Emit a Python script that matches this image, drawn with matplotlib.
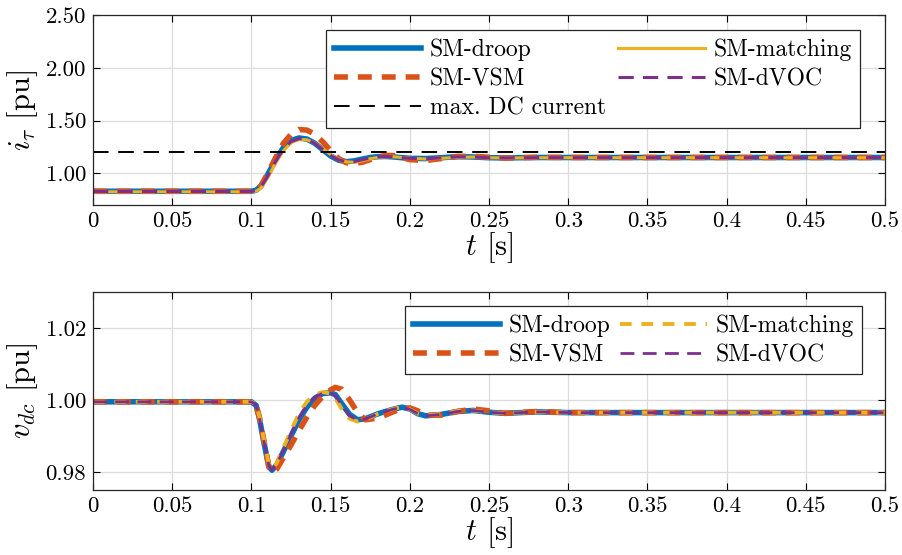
import matplotlib
matplotlib.use('Agg')
import matplotlib.pyplot as plt
from matplotlib.ticker import FormatStrFormatter

plt.rcParams['font.family'] = ['cmr10', 'DejaVu Serif']
plt.rcParams['mathtext.fontset'] = 'cm'
plt.rcParams['axes.formatter.use_mathtext'] = True

# --- current i_tau (top) ---
t_i = [0, 0.100, 0.103, 0.106, 0.110, 0.115, 0.120, 0.125, 0.130, 0.135, 0.140, 0.145,
       0.150, 0.155, 0.160, 0.165, 0.170, 0.175, 0.180, 0.185, 0.190, 0.195, 0.200,
       0.210, 0.220, 0.230, 0.240, 0.250, 0.260, 0.280, 0.300, 0.350, 0.400, 0.450, 0.500]
i_droop = [0.83, 0.83, 0.84, 0.88, 0.98, 1.12, 1.24, 1.31, 1.335, 1.325, 1.285, 1.225,
           1.165, 1.125, 1.110, 1.118, 1.135, 1.150, 1.158, 1.160, 1.155, 1.148, 1.142,
           1.140, 1.148, 1.158, 1.155, 1.148, 1.146, 1.150, 1.150, 1.150, 1.150, 1.150, 1.150]
i_vsm = [0.83, 0.83, 0.84, 0.88, 0.99, 1.14, 1.28, 1.37, 1.415, 1.410, 1.370, 1.300,
         1.215, 1.140, 1.100, 1.092, 1.105, 1.130, 1.155, 1.170, 1.168, 1.150, 1.130,
         1.122, 1.140, 1.160, 1.162, 1.152, 1.145, 1.152, 1.150, 1.150, 1.150, 1.150, 1.150]
i_matching = [0.825, 0.825, 0.83, 0.86, 0.95, 1.09, 1.21, 1.29, 1.320, 1.318, 1.288, 1.235,
              1.178, 1.132, 1.108, 1.105, 1.118, 1.138, 1.152, 1.158, 1.156, 1.150, 1.143,
              1.136, 1.142, 1.152, 1.154, 1.148, 1.145, 1.148, 1.148, 1.148, 1.148, 1.148, 1.148]
i_dvoc = [0.828, 0.828, 0.835, 0.87, 0.965, 1.105, 1.225, 1.30, 1.328, 1.322, 1.285, 1.228,
          1.170, 1.128, 1.110, 1.112, 1.128, 1.145, 1.156, 1.160, 1.156, 1.149, 1.142,
          1.138, 1.146, 1.156, 1.155, 1.148, 1.146, 1.149, 1.149, 1.149, 1.149, 1.149, 1.149]
i_max = 1.2

# --- dc voltage v_dc (bottom) ---
t_v = [0, 0.100, 0.103, 0.105, 0.108, 0.111, 0.113, 0.116, 0.120, 0.125, 0.130, 0.135,
       0.140, 0.145, 0.150, 0.153, 0.157, 0.162, 0.167, 0.172, 0.180, 0.190, 0.195,
       0.200, 0.205, 0.210, 0.220, 0.230, 0.240, 0.250, 0.260, 0.280, 0.300, 0.350,
       0.400, 0.450, 0.500]
v_droop = [0.9995, 0.9995, 0.9985, 0.9950, 0.9880, 0.9815, 0.9805, 0.9820, 0.9855, 0.9900,
           0.9945, 0.9980, 1.0005, 1.0018, 1.0020, 1.0015, 0.9990, 0.9960, 0.9945, 0.9948,
           0.9962, 0.9975, 0.9980, 0.9975, 0.9962, 0.9956, 0.9960, 0.9968, 0.9971, 0.9966,
           0.9963, 0.9967, 0.9965, 0.9965, 0.9965, 0.9965, 0.9965]
v_vsm = [0.9995, 0.9995, 0.9985, 0.9952, 0.9885, 0.9815, 0.9798, 0.9808, 0.9838, 0.9875,
         0.9915, 0.9952, 0.9985, 1.0010, 1.0028, 1.0035, 1.0030, 1.0000, 0.9965, 0.9945,
         0.9950, 0.9968, 0.9977, 0.9978, 0.9970, 0.9958, 0.9958, 0.9968, 0.9975, 0.9970,
         0.9963, 0.9968, 0.9965, 0.9965, 0.9965, 0.9965, 0.9965]
v_matching = [0.9995, 0.9995, 0.9988, 0.9955, 0.9888, 0.9822, 0.9808, 0.9825, 0.9865, 0.9915,
              0.9962, 0.9995, 1.0015, 1.0022, 1.0018, 1.0005, 0.9975, 0.9948, 0.9940, 0.9945,
              0.9962, 0.9976, 0.9980, 0.9974, 0.9962, 0.9957, 0.9961, 0.9969, 0.9971, 0.9966,
              0.9963, 0.9967, 0.9965, 0.9965, 0.9965, 0.9965, 0.9965]
v_dvoc = [0.9995, 0.9995, 0.9986, 0.9951, 0.9883, 0.9818, 0.9805, 0.9822, 0.9858, 0.9905,
          0.9950, 0.9985, 1.0008, 1.0019, 1.0019, 1.0012, 0.9986, 0.9956, 0.9944, 0.9947,
          0.9962, 0.9975, 0.9979, 0.9974, 0.9962, 0.9956, 0.9960, 0.9968, 0.9971, 0.9966,
          0.9963, 0.9967, 0.9965, 0.9965, 0.9965, 0.9965, 0.9965]

blue = '#0072BD'
orange = '#D95319'
yellow = '#EDB120'
purple = '#7E2F8E'

xticks = [0, 0.05, 0.1, 0.15, 0.2, 0.25, 0.3, 0.35, 0.4, 0.45, 0.5]
xticklabels = ['0', '0.05', '0.1', '0.15', '0.2', '0.25', '0.3', '0.35', '0.4', '0.45', '0.5']

fig = plt.figure(figsize=(9.02, 5.55), dpi=100)
ax1 = fig.add_axes([93 / 902, 1 - 205 / 555, 792 / 902, 190 / 555])
ax2 = fig.add_axes([93 / 902, 1 - 490 / 555, 792 / 902, 198 / 555])


def style_axis(ax):
    ax.set_xlim(0, 0.5)
    ax.set_xticks(xticks)
    ax.set_xticklabels(xticklabels)
    ax.grid(True, color='#dcdcdc', linewidth=0.9)
    ax.set_axisbelow(True)
    ax.tick_params(direction='in', top=True, right=True, labelsize=16.5, length=5,
                   width=0.8, pad=5)
    for s in ax.spines.values():
        s.set_linewidth(0.9)
        s.set_color('#262626')
    ax.set_xlabel(r'$t$ [s]', fontsize=22, labelpad=-1)


leg_kw = dict(fontsize=17, fancybox=False, edgecolor='#262626', framealpha=1,
              handlelength=3.7, handletextpad=0.35, labelspacing=0.3, borderpad=0.35,
              borderaxespad=0)

# top panel
ax1.plot(t_i, i_droop, color=blue, lw=4, label='SM-droop')
ax1.plot(t_i, i_vsm, color=orange, lw=4, ls=(0, (2.5, 1.8)), label='SM-VSM')
ax1.plot(t_i, i_matching, color=yellow, lw=2.2, label='SM-matching')
ax1.plot(t_i, i_dvoc, color=purple, lw=2.2, ls=(0, (5, 3)), label='SM-dVOC')
ax1.axhline(i_max, color='black', lw=1.4, ls=(0, (8, 5)), label='max. DC current')
ax1.set_ylim(0.7, 2.5)
ax1.set_yticks([1.0, 1.5, 2.0, 2.5])
ax1.yaxis.set_major_formatter(FormatStrFormatter('%.2f'))
ax1.set_ylabel(r'$i_\tau$ [pu]', fontsize=22, labelpad=4)
style_axis(ax1)
h, l = ax1.get_legend_handles_labels()
order = [0, 1, 4, 2, 3]
leg1 = ax1.legend([h[k] for k in order], [l[k] for k in order], ncol=2, loc='upper right',
                  bbox_to_anchor=(0.968, 0.92), columnspacing=0.5, **leg_kw)
leg1.get_frame().set_linewidth(0.9)

# bottom panel
ax2.plot(t_v, v_droop, color=blue, lw=4, label='SM-droop')
ax2.plot(t_v, v_vsm, color=orange, lw=4, ls=(0, (2.5, 1.8)), label='SM-VSM')
ax2.plot(t_v, v_matching, color=yellow, lw=2.8, ls=(0, (3, 2.5)), label='SM-matching')
ax2.plot(t_v, v_dvoc, color=purple, lw=2.0, ls=(0, (5, 3)), label='SM-dVOC')
ax2.set_ylim(0.975, 1.03)
ax2.set_yticks([0.98, 1.0, 1.02])
ax2.yaxis.set_major_formatter(FormatStrFormatter('%.2f'))
ax2.set_ylabel(r'$v_{dc}$ [pu]', fontsize=22, labelpad=4)
style_axis(ax2)
leg2 = ax2.legend(ncol=2, loc='upper right', bbox_to_anchor=(0.971, 0.929),
                  columnspacing=0.4, **leg_kw)
leg2.get_frame().set_linewidth(0.9)

fig.savefig('out.png', dpi=100)
